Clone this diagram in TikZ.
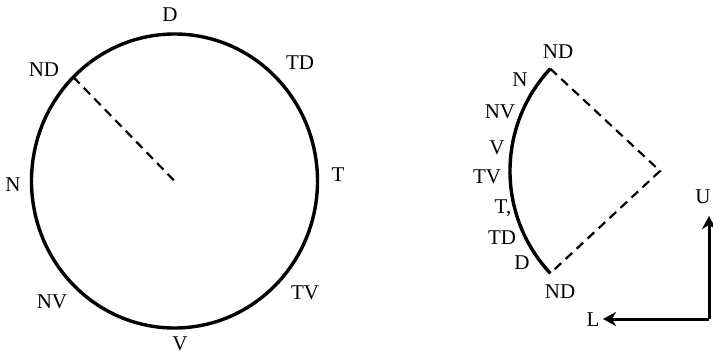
\documentclass[tikz,border=0pt]{standalone}
\usepackage{fontspec}
\setmainfont{Liberation Serif}
\usetikzlibrary{arrows.meta,calc}
\begin{document}
\begin{tikzpicture}[x=1pt,y=1pt,
  lab/.style={inner sep=0pt,font=\fontsize{21}{21}\selectfont},
  solidline/.style={line width=3.4pt},
  dashline/.style={line width=2.2pt,dash pattern=on 9pt off 6pt},
  axis/.style={line width=3pt,-{Stealth[length=13pt,width=14pt,inset=4pt]}}]
\useasboundingbox (0,0) rectangle (713,-356);
% left circle
\coordinate (c) at (174.5,-181);
\draw[solidline] (c) ellipse [x radius=143, y radius=147];
\coordinate (nd) at ($(c)+(-101.1,103.9)$);
\draw[dashline] (nd) -- (c);
\node[lab] (lD) at (170,-15) {D};
\node[lab] (lTD) at (300,-63) {TD};
\node[lab] (lT) at (338,-175) {T};
\node[lab] (lTV) at (305,-293) {TV};
\node[lab] (lV) at (180,-344) {V};
\node[lab] (lNV) at (52,-302) {NV};
\node[lab] (lN) at (13,-185) {N};
\node[lab] (lND) at (44,-70) {ND};
% right sector
\coordinate (apex) at (660,-171);
\coordinate (top) at ($(apex)+(137:150)$);
\coordinate (bot) at ($(apex)+(223:150)$);
\draw[solidline] (top) arc[start angle=137,end angle=223,radius=150];
\draw[dashline] (top) -- (apex) -- (bot);
\node[lab] (rNDt) at (558,-52) {ND};
\node[lab] (rN) at (520,-80) {N};
\node[lab] (rNV) at (500,-112) {NV};
\node[lab] (rV) at (497,-148) {V};
\node[lab] (rTV) at (487,-177) {TV};
\node[lab] (rT) at (503,-208) {T,};
\node[lab] (rTD) at (502,-238) {TD};
\node[lab] (rD) at (522,-263) {D};
\node[lab] (rNDb) at (560,-292) {ND};
% axes
\coordinate (corner) at (709,-319);
\coordinate (utip) at (709,-216);
\coordinate (ltip) at (603,-319);
\draw[axis] (corner) -- (utip);
\draw[axis] (corner) -- (ltip);
\node[lab] (U) at (703,-197) {U};
\node[lab] (L) at (593,-320) {L};
\end{tikzpicture}
\end{document}
